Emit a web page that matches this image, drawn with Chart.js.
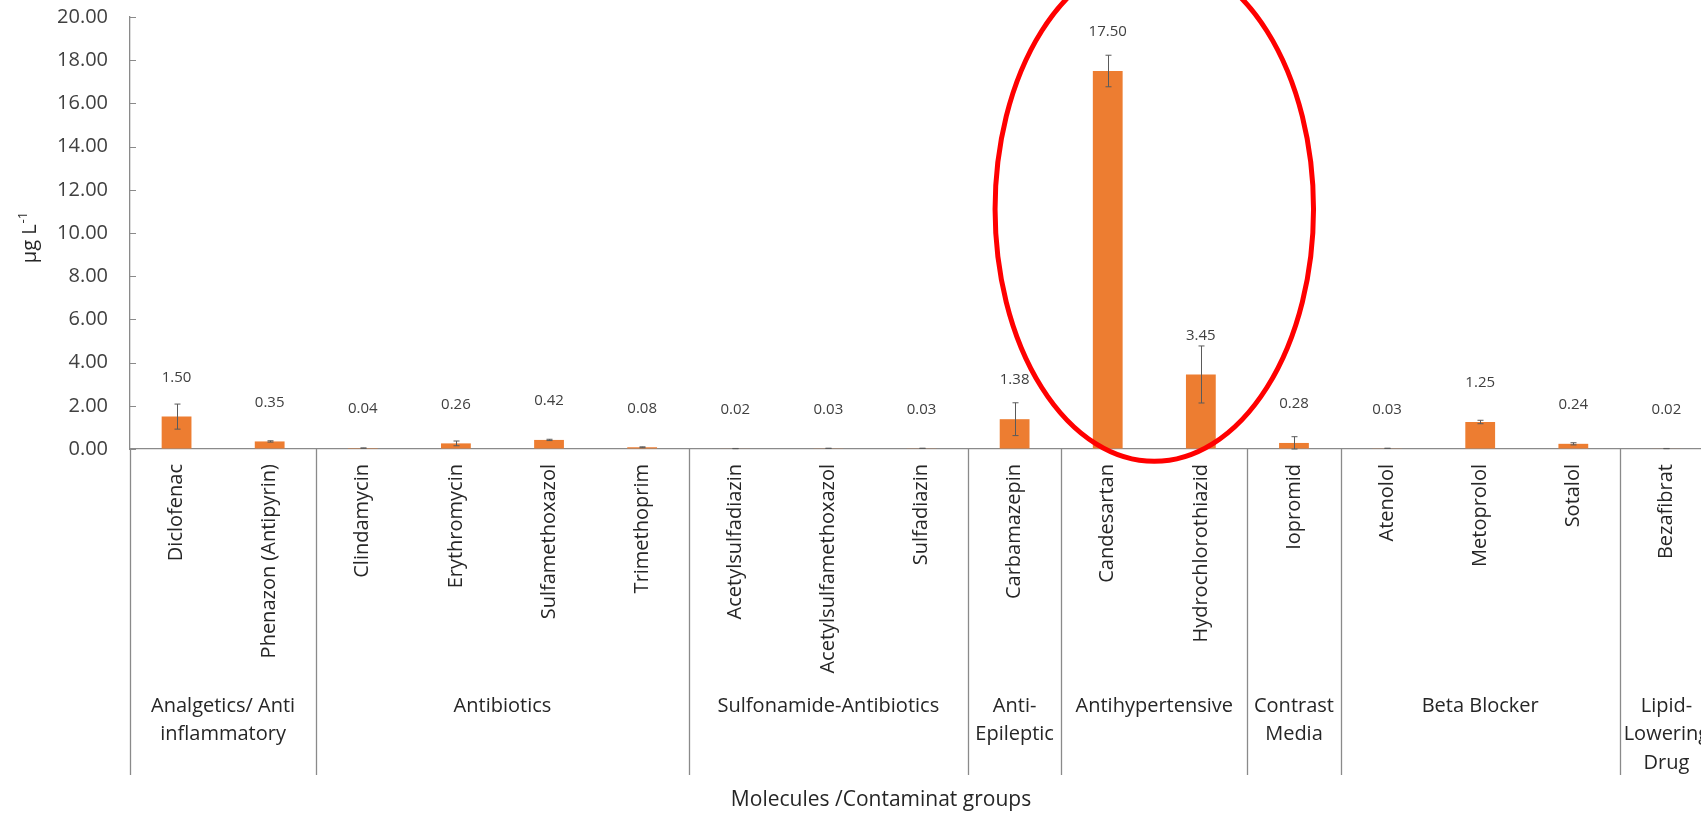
<!DOCTYPE html>
<html>
<head>
<meta charset="utf-8">
<script src="https://cdn.jsdelivr.net/npm/chart.js@4.4.1/dist/chart.umd.min.js"></script>
<style>
html,body{margin:0;padding:0;overflow:hidden;background:#fff;width:1701px;height:816px;}
#wrap{position:absolute;left:0;top:0;width:1730px;height:816px;}
canvas{display:block;}
</style>
</head>
<body>
<div id="wrap"><canvas id="c" width="1730" height="816"></canvas></div>
<script>
// ---- data ----
const molecules = ["Diclofenac","Phenazon (Antipyrin)","Clindamycin","Erythromycin","Sulfamethoxazol","Trimethoprim",
  "Acetylsulfadiazin","Acetylsulfamethoxazol","Sulfadiazin","Carbamazepin","Candesartan","Hydrochlorothiazid",
  "Iopromid","Atenolol","Metoprolol","Sotalol","Bezafibrat"];
const concentrations = [1.50,0.35,0.04,0.26,0.42,0.08,0.02,0.03,0.03,1.38,17.50,3.45,0.28,0.03,1.25,0.24,0.02];
const errors = [0.58,0.03,0.01,0.11,0.03,0.02,0.005,0.005,0.005,0.76,0.73,1.32,0.29,0.005,0.08,0.05,0.005];
const groupNames = [["Analgetics/ Anti","inflammatory"],["Antibiotics"],["Sulfonamide-Antibiotics"],["Anti-","Epileptic"],
  ["Antihypertensive"],["Contrast","Media"],["Beta Blocker"],["Lipid-","Lowering","Drug"]];
const groupSizes = [2,4,3,1,2,1,3,1];
const yMin = 0, yMax = 20, yStep = 2;
const highlighted = [10, 11]; // Candesartan, Hydrochlorothiazid

const FONT = "'Open Sans', sans-serif";
const AXIS = "#8a8a8a";

const decor = {
  id: 'decor',
  afterDatasetsDraw(chart) {
    const ctx = chart.ctx;
    const xs = chart.scales.x, ys = chart.scales.y;
    const ca = chart.chartArea;
    ctx.save();
    // inside tick marks on y axis
    ctx.strokeStyle = AXIS; ctx.lineWidth = 1;
    ys.ticks.forEach(t => {
      const y = Math.round(ys.getPixelForValue(t.value)) + 0.5;
      ctx.beginPath(); ctx.moveTo(ca.left, y); ctx.lineTo(ca.left + 6, y); ctx.stroke();
    });
    // error bars
    ctx.strokeStyle = "#5a5a5a"; ctx.lineWidth = 1;
    concentrations.forEach((v, i) => {
      const e = errors[i];
      const x = Math.round(xs.getPixelForValue(i)) + 0.5;
      const yt = ys.getPixelForValue(v + e), yb = ys.getPixelForValue(Math.max(0, v - e));
      ctx.beginPath();
      ctx.moveTo(x, yt); ctx.lineTo(x, yb);
      ctx.moveTo(x - 3, yt); ctx.lineTo(x + 3, yt);
      ctx.moveTo(x - 3, yb); ctx.lineTo(x + 3, yb);
      ctx.stroke();
    });
    // value labels
    ctx.fillStyle = "#404040";
    ctx.font = "15px " + FONT;
    ctx.textAlign = "center"; ctx.textBaseline = "middle";
    concentrations.forEach((v, i) => {
      ctx.fillText(v.toFixed(2), xs.getPixelForValue(i), ys.getPixelForValue(v) - 39);
    });
    // group separators + group labels
    const bottom = ca.bottom;
    const sepEnd = 775;
    let start = 0;
    const bounds = [xs.left];
    groupSizes.forEach((n) => {
      const end = start + n;
      const bx = end < molecules.length ? (xs.getPixelForValue(end - 1) + xs.getPixelForValue(end)) / 2 : xs.right;
      bounds.push(bx);
      start = end;
    });
    ctx.strokeStyle = AXIS; ctx.lineWidth = 1.3;
    bounds.forEach((bx, k) => {
      if (k === bounds.length - 1) return;
      const x = Math.round(bx) + 0.5;
      ctx.beginPath(); ctx.moveTo(x, bottom); ctx.lineTo(x, sepEnd); ctx.stroke();
    });
    ctx.fillStyle = "#262626";
    ctx.font = "20px " + FONT;
    groupNames.forEach((lines, k) => {
      const cx = (bounds[k] + bounds[k + 1]) / 2;
      lines.forEach((ln, j) => ctx.fillText(ln, cx, 706 + j * 28.5));
    });
    // x axis title
    ctx.font = "21px " + FONT;
    ctx.fillText("Molecules /Contaminat groups", 881, 800);
    // y axis title with superscript
    ctx.save();
    ctx.translate(29, 238);
    ctx.rotate(-Math.PI / 2);
    ctx.textAlign = "left";
    const main = "\u03bcg L";
    ctx.font = "20px " + FONT;
    const w1 = ctx.measureText(main).width;
    ctx.font = "13px " + FONT;
    const w2 = ctx.measureText("-1").width;
    const x0 = -(w1 + w2) / 2;
    ctx.font = "20px " + FONT;
    ctx.fillText(main, x0, 1);
    ctx.font = "13px " + FONT;
    ctx.fillText("-1", x0 + w1 + 1, -6);
    ctx.restore();
    // highlight ellipse around the antihypertensive bars
    const cxE = (xs.getPixelForValue(highlighted[0]) + xs.getPixelForValue(highlighted[1])) / 2;
    const catW = xs.getPixelForValue(1) - xs.getPixelForValue(0);
    const cyE = ys.getPixelForValue(11.1);
    const ryE = ys.getPixelForValue(0) - ys.getPixelForValue(11.67);
    ctx.strokeStyle = "#ff0000"; ctx.lineWidth = 5;
    ctx.beginPath();
    ctx.ellipse(cxE, cyE, catW * 1.71, ryE, 0, 0, Math.PI * 2);
    ctx.stroke();
    ctx.restore();
  }
};

new Chart(document.getElementById('c'), {
  type: 'bar',
  data: {
    labels: molecules,
    datasets: [{
      data: concentrations,
      backgroundColor: "#ED7D31",
      borderWidth: 0,
      barPercentage: 0.32,
      categoryPercentage: 1.0
    }]
  },
  options: {
    responsive: false,
    devicePixelRatio: 1,
    animation: false,
    layout: { padding: { left: 0, right: 17, top: 17, bottom: 0 } },
    plugins: { legend: { display: false }, tooltip: { enabled: false } },
    scales: {
      x: {
        type: 'category',
        grid: { display: true, drawOnChartArea: false, drawTicks: false },
        border: { display: true, color: AXIS, width: 1.3 },
        ticks: {
          autoSkip: false, minRotation: 90, maxRotation: 90, padding: 15,
          color: "#262626", font: { family: FONT, size: 20 }
        },
        afterFit: s => { s.height = 367; s.paddingTop = 0; s.paddingBottom = 0; }
      },
      y: {
        min: yMin, max: yMax,
        grid: { display: true, drawOnChartArea: false, drawTicks: false },
        border: { display: true, color: AXIS, width: 1.3 },
        ticks: {
          stepSize: yStep, padding: 22, color: "#404040",
          font: { family: FONT, size: 20 },
          callback: v => Number(v).toFixed(2)
        },
        afterFit: s => { s.width = 130; s.paddingTop = 0; s.paddingBottom = 0; }
      }
    }
  },
  plugins: [decor]
});
</script>
</body>
</html>
